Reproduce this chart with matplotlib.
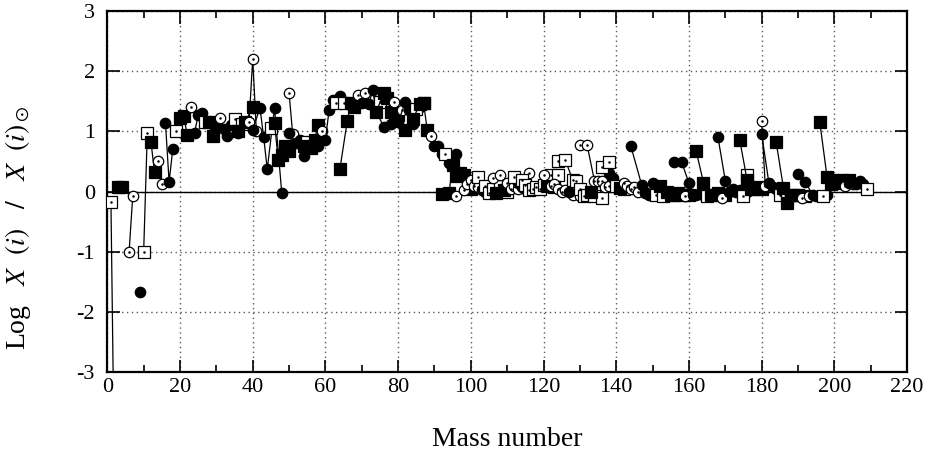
import matplotlib
matplotlib.use('Agg')
import matplotlib.pyplot as plt

plt.rcParams['font.family'] = ['Liberation Serif', 'DejaVu Serif']
plt.rcParams['mathtext.fontset'] = 'stix'
plt.rcParams['axes.unicode_minus'] = False

# element order (Tc and Pm have no stable isotopes), isotopes and log overproduction
elements = ['H', 'He', 'Li', 'Be', 'B', 'C', 'N', 'O', 'F', 'Ne', 'Na', 'Mg', 'Al', 'Si', 'P', 'S',
            'Cl', 'Ar', 'K', 'Ca', 'Sc', 'Ti', 'V', 'Cr', 'Mn', 'Fe', 'Co', 'Ni', 'Cu', 'Zn', 'Ga',
            'Ge', 'As', 'Se', 'Br', 'Kr', 'Rb', 'Sr', 'Y', 'Zr', 'Nb', 'Mo', 'Ru', 'Rh', 'Pd', 'Ag',
            'Cd', 'In', 'Sn', 'Sb', 'Te', 'I', 'Xe', 'Cs', 'Ba', 'La', 'Ce', 'Pr', 'Nd', 'Sm', 'Eu',
            'Gd', 'Tb', 'Dy', 'Ho', 'Er', 'Tm', 'Yb', 'Lu', 'Hf', 'Ta', 'W', 'Re', 'Os', 'Ir', 'Pt',
            'Au', 'Hg', 'Tl', 'Pb', 'Bi']

masses = [
    [1, 2], [3, 4], [6, 7], [9], [10, 11], [12, 13], [14, 15], [16, 17, 18], [19], [20, 21, 22],
    [23], [24, 25, 26], [27], [28, 29, 30], [31], [32, 33, 34, 36], [35, 37], [36, 38, 40],
    [39, 40, 41], [40, 42, 43, 44, 46, 48], [45], [46, 47, 48, 49, 50], [50, 51], [50, 52, 53, 54],
    [55], [54, 56, 57, 58], [59], [58, 60, 61, 62, 64], [63, 65], [64, 66, 67, 68, 70], [69, 71],
    [70, 72, 73, 74, 76], [75], [74, 76, 77, 78, 80, 82], [79, 81], [78, 80, 82, 83, 84, 86],
    [85, 87], [84, 86, 87, 88], [89], [90, 91, 92, 94, 96], [93], [92, 94, 95, 96, 97, 98, 100],
    [96, 98, 99, 100, 101, 102, 104], [103], [102, 104, 105, 106, 108, 110], [107, 109],
    [106, 108, 110, 111, 112, 113, 114, 116], [113, 115],
    [112, 114, 115, 116, 117, 118, 119, 120, 122, 124], [121, 123],
    [120, 122, 123, 124, 125, 126, 128, 130], [127], [124, 126, 128, 129, 130, 131, 132, 134, 136],
    [133], [130, 132, 134, 135, 136, 137, 138], [138, 139], [136, 138, 140, 142], [141],
    [142, 143, 144, 145, 146, 148, 150], [144, 147, 148, 149, 150, 152, 154], [151, 153],
    [152, 154, 155, 156, 157, 158, 160], [159], [156, 158, 160, 161, 162, 163, 164], [165],
    [162, 164, 166, 167, 168, 170], [169], [168, 170, 171, 172, 173, 174, 176], [175, 176],
    [174, 176, 177, 178, 179, 180], [180, 181], [180, 182, 183, 184, 186], [185, 187],
    [184, 186, 187, 188, 189, 190, 192], [191, 193], [190, 192, 194, 195, 196, 198], [197],
    [196, 198, 199, 200, 201, 202, 204], [203, 205], [204, 206, 207, 208], [209]]

logx = [
    [-0.18, -4.9], [0.08, 0.08], [-1.0, -0.07], [-1.67], [-1.0, 0.97], [0.83, 0.32], [0.51, 0.13],
    [1.14, 0.16, 0.70], [1.0], [1.22, 1.25, 0.94], [1.41], [0.98, 1.27, 1.31], [1.16],
    [1.16, 0.93, 1.14], [1.22], [1.04, 0.92, 1.10, 0.97], [1.21, 1.12], [1.0, 1.16, 1.41],
    [1.15, 2.21, 1.0], [1.03, 1.39, 0.91, 0.37, 1.39, -0.03], [1.05], [1.14, 0.53, 0.61, 0.75, 0.67],
    [1.64, 0.95], [0.97, 0.80, 0.86, 0.59], [0.82], [0.75, 0.72, 0.86, 1.11], [1.0],
    [0.76, 0.86, 1.35, 1.52, 1.59], [1.47, 1.47], [0.38, 1.17, 1.47, 1.40, 1.50], [1.61, 1.64],
    [1.48, 1.46, 1.69, 1.33, 1.08], [1.49], [1.33, 1.63, 1.55, 1.33, 1.27, 1.03], [1.49, 1.35],
    [1.13, 1.15, 1.49, 1.35, 1.13, 1.40], [1.38, 1.47], [1.20, 1.45, 1.47, 1.03], [0.92],
    [0.76, 0.76, 0.62, 0.47, 0.62], [0.62], [-0.04, -0.02, 0.44, 0.26, 0.30, 0.28, 0.05],
    [-0.07, 0.03, 0.12, 0.19, 0.10, 0.08, 0.0], [0.03], [0.25, 0.10, -0.03, 0.05, 0.10, 0.0],
    [-0.03, 0.02], [0.22, 0.27, 0.14, 0.05, 0.10, 0.05, 0.08, 0.31], [0.15, 0.05],
    [0.25, 0.20, 0.11, 0.02, 0.05, 0.08, 0.05, 0.11, 0.28, 0.28], [0.10, 0.08],
    [0.28, 0.10, 0.12, 0.05, 0.0, 0.02, -0.05, -0.08], [0.0],
    [0.51, 0.52, 0.20, 0.17, 0.05, -0.08, -0.05, -0.08, -0.10], [0.0],
    [0.77, 0.77, 0.18, 0.17, 0.17, 0.08, 0.10], [0.31, 0.22], [0.41, 0.49, 0.10, 0.05], [0.06],
    [0.14, 0.10, 0.05, 0.08, 0.0, -0.03, -0.05], [0.76, 0.11, 0.0, -0.05, 0.14, -0.05, -0.05],
    [-0.05, -0.08], [0.10, 0.0, -0.05, -0.05, -0.03, -0.05, -0.05], [-0.08],
    [0.49, 0.49, 0.14, -0.05, -0.05, -0.03, -0.05], [-0.08], [0.67, 0.15, -0.05, -0.05, -0.03, -0.05],
    [-0.10], [0.90, 0.18, 0.0, 0.05, 0.0, 0.02, 0.0], [-0.08, 0.27], [0.85, 0.19, 0.05, 0.05, 0.08, 0.05],
    [1.17, 0.10], [0.96, 0.14, 0.08, 0.05, 0.05], [-0.05, -0.08],
    [0.82, 0.06, -0.19, -0.05, -0.05, -0.05, -0.08], [-0.10, -0.08],
    [0.29, 0.16, -0.05, -0.08, -0.08, -0.05], [-0.08], [1.15, 0.24, 0.12, 0.20, 0.15, 0.20, 0.20],
    [0.10, 0.12], [0.15, 0.12, 0.17, 0.12], [0.04]]

# gnuplot-like point types, cycled element by element
styles = [('s', 'white'), ('s', 'black'), ('o', 'white'), ('o', 'black')]

fig = plt.figure(figsize=(9.38, 4.61), dpi=100)
ax = fig.add_axes([0.1144, 0.193, 0.8526, 0.783])

for i, (a, v) in enumerate(zip(masses, logx)):
    marker, face = styles[i % 4]
    ms = 8 if marker == 's' else 7.5
    ax.plot(a, v, '-', color='black', lw=0.9, marker=marker, ms=ms,
            mfc=face, mec='black', mew=0.9, zorder=3)
    if face == 'white':
        ax.plot(a, v, linestyle='none', marker='.', ms=1.6, color='black', zorder=3)

ax.axhline(0, color='black', lw=1.0, zorder=2)

ax.set_xlim(0, 220)
ax.set_ylim(-3, 3)
ax.set_xticks(range(0, 221, 20))
ax.set_xticks(range(10, 220, 20), minor=True)
ax.set_yticks(range(-3, 4))
ax.grid(True, which='major', color='0.35', linestyle=(0, (1, 2.5)), lw=1.0)
ax.set_axisbelow(True)

ax.tick_params(which='both', direction='in', top=True, right=True, labelsize=16)
ax.tick_params(axis='x', pad=4)
ax.tick_params(axis='y', pad=9)
ax.tick_params(which='major', length=9, width=1.2)
ax.tick_params(which='minor', length=5, width=1.2)
for s in ax.spines.values():
    s.set_linewidth(1.6)

ax.set_xlabel('Mass number', fontsize=20, labelpad=22)
ax.set_ylabel(r'Log$\quad X\ \ (i)\ \ \ /\ \ \ X\ \ (i)_\odot$', fontsize=20)
ax.yaxis.set_label_coords(-0.093, 0.40)

fig.savefig('out.png', dpi=100)
